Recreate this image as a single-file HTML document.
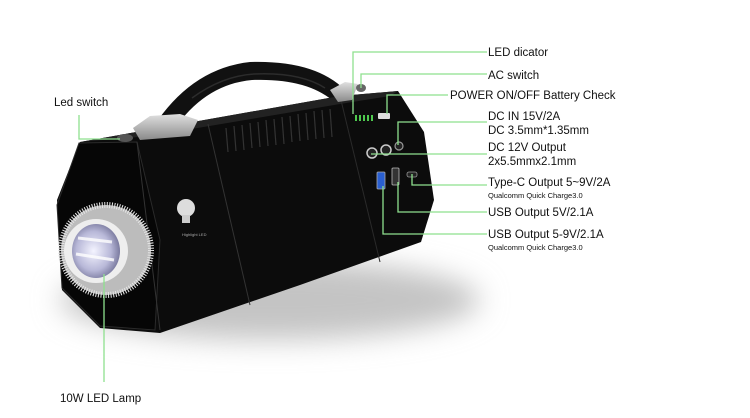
<!DOCTYPE html>
<html><head><meta charset="utf-8"><style>
html,body{margin:0;padding:0;background:#fff;width:750px;height:418px;overflow:hidden}
svg{display:block}
text{font-family:"Liberation Sans",Arial,sans-serif;fill:#111}
</style></head><body>
<svg width="750" height="418" viewBox="0 0 750 418" xmlns="http://www.w3.org/2000/svg">
<defs>
<filter id="bl" x="-50%" y="-50%" width="200%" height="200%"><feGaussianBlur stdDeviation="14"/></filter>
<radialGradient id="lens" cx="0.45" cy="0.5" r="0.6"><stop offset="0" stop-color="#f4f4ff"/><stop offset="0.6" stop-color="#b8b8d8"/><stop offset="1" stop-color="#6a6a90"/></radialGradient>
<linearGradient id="cap" x1="0" y1="0" x2="0" y2="1"><stop offset="0" stop-color="#e0e0e0"/><stop offset="1" stop-color="#8a8a8a"/></linearGradient>
</defs>
<ellipse cx="270" cy="300" rx="210" ry="40" fill="#c4c4c4" filter="url(#bl)"/>
<!-- handle -->
<path d="M158,120 Q195,68 250,62 Q315,60 345,90 L332,100 Q305,78 252,80 Q208,84 178,124 Z" fill="#111"/>
<path d="M192,98 Q222,76 254,74 Q300,72 325,88" stroke="#2c2c2c" stroke-width="1.5" fill="none"/>
<!-- body -->
<polygon points="80,142 340,96 398,91 424,132 434,200 421,242 300,285 160,333 100,328 62,290 57,200" fill="#0c0c0c"/>
<polygon points="80,142 340,96 398,91 390,96 340,104 150,136" fill="#222"/>
<polygon points="79,143 137,142 160,240 155,330 100,326 62,288 57,205" fill="#060606" stroke="#2a2a2a" stroke-width="1"/>
<line x1="137" y1="142" x2="160" y2="330" stroke="#333" stroke-width="1"/>
<line x1="208" y1="124" x2="250" y2="305" stroke="#333" stroke-width="1"/>
<line x1="340" y1="96" x2="380" y2="262" stroke="#2a2a2a" stroke-width="1"/>
<g stroke="#333" stroke-width="1.2">
<line x1="226" y1="128" x2="228" y2="152"/><line x1="234" y1="126" x2="236" y2="151"/><line x1="242" y1="125" x2="244" y2="150"/><line x1="250" y1="123" x2="252" y2="148"/><line x1="258" y1="122" x2="260" y2="147"/><line x1="266" y1="120" x2="268" y2="146"/><line x1="274" y1="119" x2="276" y2="145"/><line x1="282" y1="117" x2="284" y2="144"/><line x1="290" y1="116" x2="292" y2="142"/><line x1="298" y1="114" x2="300" y2="141"/><line x1="306" y1="113" x2="308" y2="140"/><line x1="314" y1="111" x2="316" y2="139"/><line x1="322" y1="110" x2="324" y2="138"/><line x1="330" y1="109" x2="332" y2="137"/>
</g>
<polygon points="133,128 150,116 180,114 198,120 190,136 140,140" fill="url(#cap)"/>
<polygon points="330,90 345,82 358,84 352,100 338,102" fill="url(#cap)"/>
<ellipse cx="125" cy="138" rx="8" ry="4" fill="#555"/>
<ellipse cx="361" cy="88" rx="5" ry="4" fill="#666"/>
<!-- lamp -->
<circle cx="106" cy="250" r="45" fill="#bcbcbc"/>
<circle cx="106" cy="250" r="45" fill="none" stroke="#e6e6e6" stroke-width="6" stroke-dasharray="1 1.5"/>
<circle cx="96" cy="251" r="32" fill="#eee"/>
<ellipse cx="96" cy="251" rx="24" ry="27" fill="url(#lens)"/>
<path d="M78,238 L112,242 M76,254 L114,260" stroke="#fff" stroke-width="3" opacity="0.8"/>
<circle cx="186" cy="208" r="9" fill="#ddd"/><rect x="182" y="215" width="8" height="8" fill="#ccc"/>
<text x="182" y="236" font-size="4" style="fill:#aaa">Highlight LED</text>
<g fill="#4ec94e"><rect x="355" y="115" width="2" height="6"/><rect x="359" y="115" width="2" height="6"/><rect x="363" y="115" width="2" height="6"/><rect x="367" y="115" width="2" height="6"/><rect x="371" y="115" width="2" height="6"/></g>
<rect x="378" y="113" width="12" height="6" rx="1" fill="#ddd"/>
<circle cx="372" cy="153" r="5" fill="#222" stroke="#ccc" stroke-width="1.5"/>
<circle cx="386" cy="150" r="5" fill="#222" stroke="#ccc" stroke-width="1.5"/>
<circle cx="399" cy="146" r="4" fill="#222" stroke="#999" stroke-width="1.2"/>
<rect x="377" y="172" width="8" height="17" rx="1" fill="#2a5fd0" stroke="#aaa" stroke-width="0.8"/>
<rect x="392" y="168" width="7" height="17" rx="1" fill="#333" stroke="#bbb" stroke-width="0.8"/>
<rect x="407" y="172" width="10" height="5" rx="2" fill="#222" stroke="#999" stroke-width="0.8"/>
<g stroke="#8ee08e" stroke-width="1.3" fill="none">
<polyline points="353,114 353,52 487,52"/>
<polyline points="361,88 361,74 487,74"/>
<polyline points="387,114 387,95 448,95"/>
<polyline points="398,145 398,122 487,122"/>
<polyline points="371,154 487,154"/>
<polyline points="412,174 412,185 487,185"/>
<polyline points="398,182 398,212 487,212"/>
<polyline points="383,186 383,234 487,234"/>
<polyline points="79,115 79,139 120,139"/>
<polyline points="104,274 104,382"/>
</g>
<g font-size="11.5">
<text x="488" y="56">LED dicator</text>
<text x="488" y="79">AC switch</text>
<text x="450" y="99">POWER ON/OFF Battery Check</text>
<text x="488" y="120">DC IN 15V/2A</text>
<text x="488" y="134">DC 3.5mm*1.35mm</text>
<text x="488" y="151">DC 12V Output</text>
<text x="488" y="165">2x5.5mmx2.1mm</text>
<text x="488" y="186">Type-C Output 5~9V/2A</text>
<text x="488" y="216">USB Output 5V/2.1A</text>
<text x="488" y="238">USB Output 5-9V/2.1A</text>
<text x="54" y="106">Led switch</text>
<text x="60" y="402">10W LED Lamp</text>
</g>
<text x="488" y="198" font-size="7.5">Qualcomm Quick Charge3.0</text>
<text x="488" y="250" font-size="7.5">Qualcomm Quick Charge3.0</text>
</svg>
</body></html>
